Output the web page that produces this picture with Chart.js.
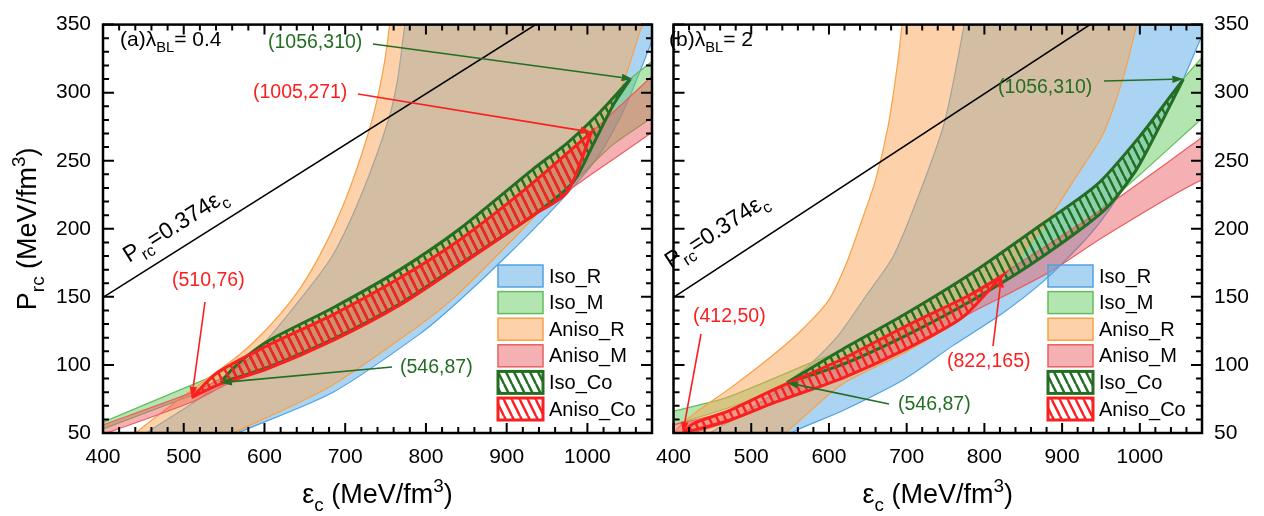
<!DOCTYPE html>
<html>
<head>
<meta charset="utf-8">
<script src="https://cdn.jsdelivr.net/npm/chart.js@4.4.1/dist/chart.umd.min.js"></script>
<style>
  html, body { margin: 0; padding: 0; background: #fff; overflow: hidden; }
  #wrap { position: relative; width: 1264px; height: 516px; }
  canvas { position: absolute; top: 0; }
  #ca { left: 0; }
  #cb { left: 644px; }
</style>
</head>
<body>
<div id="wrap">
  <canvas id="ca" width="660" height="516"></canvas>
  <canvas id="cb" width="620" height="516"></canvas>
</div>
<script>
// ---- data: [eps_c, P_rc] outlines of each band ----
// panel (a) lambda_BL = 0.4
const a_isoR = [[440,40],[454,50],[520,75.5],[590,110],[640,145],[684,180],[720,225],[753,279],[765,310],[774,350],[785,380],
  [1110,380],[1095,362],[1078,335],[1045,287],[1012,252],[966,220],[900,180],[839,146],[793,123],[685,80],[567,50],[540,42]];
const a_isoM = [[390,55],[400,58],[511,85.5],[554,97],[603,118],[685,142],[768,171],[842,201],[950,251],[1016,286],[1053,310],[1078,322],[1095,330],
  [1095,290],[1078,281],[1032,262],[982,234],[933,211],[842,175],[768,146],[685,120],[603,100],[554,88],[511,78],[400,53],[390,51]];
const a_anisoR = [[425,40],[442,50.7],[504,79],[570,108],[610,131],[645,157],[675,188],[700,221],[720,254],[736,286],[748,320],[755,350],[759,375],
  [1080,375],[1065,345],[1040,300],[1010,265],[975,236],[925,203],[836,150],[787,127],[681,84],[561,50],[530,42]];
const a_anisoM = [[390,54],[400,56],[511,80],[554,93],[603,114],[685,137],[768,164],[842,192],[925,230],[1005,271],[1078,311],[1095,320],
  [1095,277],[1078,270],[1005,240],[933,210],[842,173],[768,144],[685,118],[603,97],[554,86],[511,73],[400,49],[390,47]];
const a_isoCo = [[546,87],[560,97],[603,117],[685,142],[768,170],[842,200],[933,244],[975,263],[1016,286],[1053,310],[1053,310],
  [1032,291],[1008,263],[982,234],[933,210],[842,174],[768,145],[685,119],[603,98],[546,87]];
const a_anisoCo = [[510,76],[541,94],[603,114],[685,137],[768,164],[842,192],[925,230],[1005,271],[1005,271],
  [975,227],[933,210],[842,173],[768,144],[685,118],[603,97],[541,85],[510,76]];
const a_marks = [[1056,310],[1005,271],[510,76],[546,87]];

// panel (b) lambda_BL = 2
const b_isoR = [[430,40],[447,50],[480,61],[533,80.5],[574,99.6],[611,121],[648,151],[683,180],[718.5,229],[749,279],[774,350],[782,380],
  [1110,380],[1090,355],[1077,338],[1052,305],[1020,270],[990,240],[953,208],[925,189],[875,161],[821,137],[759,114],[697.5,89.7],[616,66],[558,52],[540,45]];
const b_isoM = [[390,64],[400,66],[468,76],[574,101],[616,111],[697,137],[780,166],[863,199],[944,232],[1000,268],[1056,310],[1080,326],[1095,336],
  [1095,289],[1080,281],[953,216],[863,175],[780,146],[697,121],[616,100],[546,84],[468,68],[400,56],[390,54]];
const b_anisoR = [[395,45],[406,54],[426,64],[472,82.6],[521,104],[562,124],[599,147],[622,174],[641,204],[660,236],[676,275],[688,320],[694,350],[698,375],
  [1005,375],[996,350],[978,310],[953,270],[920,240],[880,205],[838,175],[764,132],[697.5,109],[616,85.5],[560,58],[540,48]];
const b_anisoM = [[390,55],[400,56],[470,66],[533,83],[616,104],[697,128],[780,151],[821,166],[953,215],[1080,267],[1095,273],
  [1095,230],[1080,236],[953,194],[883,168],[772,135],[697,111],[616,90],[533,73],[470,58],[400,46],[390,44]];
const b_isoCo = [[546,87],[616,111],[697,137],[780,166],[863,199],[944,232],[1000,268],[1056,310],[1056,310],
  [1018,267],[994,242],[953,213],[863,175],[780,146],[697,121],[616,100],[546,87]];
const b_anisoCo = [[412,50],[426,57],[470,66],[533,83],[616,104],[697,128],[780,151],[822,165],[822,165],
  [772,135],[697,111],[616,90],[533,73],[470,59],[412,50]];
const b_marks = [[1056,310],[412,50],[822,165],[546,87]];

// straight line P_rc = 0.374 eps_c
const lineX = [400, 1080];
const lineY = [149.6, 403.9];

const legendNames = ['Iso_R', 'Iso_M', 'Aniso_R', 'Aniso_M', 'Iso_Co', 'Aniso_Co'];

// ---- styling ----
const F = "'Liberation Sans', Arial, Helvetica, sans-serif";
const GREEN = 'rgb(36,110,36)';
const RED = 'rgb(250,32,32)';
const COL = [
  {fill: 'rgba(92,172,228,0.52)', line: 'rgb(82,162,224)'},
  {fill: 'rgba(110,205,105,0.52)', line: 'rgb(98,190,88)'},
  {fill: 'rgba(252,165,85,0.5)', line: 'rgb(250,160,70)'},
  {fill: 'rgba(232,90,95,0.48)', line: 'rgb(232,96,96)'}
];

function hatch(color) {
  const c = document.createElement('canvas');
  c.width = 8; c.height = 16;
  const g = c.getContext('2d');
  g.strokeStyle = color;
  g.lineWidth = 2.5;
  for (const dx of [-8, 0, 8]) {
    g.beginPath(); g.moveTo(dx, 0); g.lineTo(dx + 8, 16); g.stroke();
  }
  return g.createPattern(c, 'repeat');
}
const HATCH_G = hatch(GREEN);
const HATCH_R = hatch(RED);

const pts = arr => arr.map(([x, y]) => ({x, y}));

function band(label, data, fill, border, bw, order) {
  return {
    label, data: pts(data), backgroundColor: fill, borderColor: border, borderWidth: bw,
    fill: 'shape', pointRadius: 0, tension: 0.25, order, clip: 0
  };
}

function rich(ctx, parts, x, y, size, color, rot, align) {
  ctx.save();
  ctx.translate(x, y);
  if (rot) ctx.rotate(rot);
  ctx.fillStyle = color;
  ctx.textBaseline = 'alphabetic';
  ctx.textAlign = 'left';
  const segs = parts.map(([t, k]) => {
    const s = k ? size * 0.7 : size;
    ctx.font = `${s}px ${F}`;
    return {t, k, s, w: ctx.measureText(t).width};
  });
  const total = segs.reduce((a, b) => a + b.w, 0);
  let cx = align === 'center' ? -total / 2 : 0;
  for (const g of segs) {
    ctx.font = `${g.s}px ${F}`;
    const dy = g.k === 1 ? size * 0.28 : g.k === 2 ? -size * 0.42 : 0;
    ctx.fillText(g.t, cx, dy);
    cx += g.w;
  }
  ctx.restore();
}

function arrow(ctx, x0, y0, x1, y1, color) {
  const a = Math.atan2(y1 - y0, x1 - x0), L = 11, W = 3.8;
  const bx = x1 - L * Math.cos(a), by = y1 - L * Math.sin(a);
  ctx.strokeStyle = color; ctx.fillStyle = color; ctx.lineWidth = 1.6;
  ctx.beginPath(); ctx.moveTo(x0, y0); ctx.lineTo(bx, by); ctx.stroke();
  ctx.beginPath();
  ctx.moveTo(x1, y1);
  ctx.lineTo(bx + W * Math.sin(a), by - W * Math.cos(a));
  ctx.lineTo(bx - W * Math.sin(a), by + W * Math.cos(a));
  ctx.closePath(); ctx.fill();
}

function decor(P) {
  return {
    id: 'decor',
    afterDatasetsDraw(chart) {
      const ctx = chart.ctx, ca = chart.chartArea;
      const xs = chart.scales.x, ys = chart.scales.y, o = P.off;
      ctx.save();

      // frame with inward ticks on all four sides
      ctx.strokeStyle = '#000';
      ctx.lineWidth = 2;
      ctx.beginPath();
      for (let v = 400; v <= 1080; v += 20) {
        const p = xs.getPixelForValue(v), L = v % 100 === 0 ? 10 : 6;
        ctx.moveTo(p, ca.bottom); ctx.lineTo(p, ca.bottom - L);
        ctx.moveTo(p, ca.top); ctx.lineTo(p, ca.top + L);
      }
      for (let v = 50; v <= 350; v += 10) {
        const p = ys.getPixelForValue(v), L = v % 50 === 0 ? 11 : 6;
        ctx.moveTo(ca.left, p); ctx.lineTo(ca.left + L, p);
        ctx.moveTo(ca.right, p); ctx.lineTo(ca.right - L, p);
      }
      ctx.stroke();
      ctx.lineWidth = 2.5;
      ctx.strokeRect(ca.left, ca.top, ca.right - ca.left, ca.bottom - ca.top);

      // panel tag
      rich(ctx, P.tag, P.tagX - o, 46, 21, '#000', 0, 'left');

      // label along the straight line
      const x0 = xs.getPixelForValue(lineX[0]), y0 = ys.getPixelForValue(lineY[0]);
      const x1 = xs.getPixelForValue(lineX[1]), y1 = ys.getPixelForValue(lineY[1]);
      rich(ctx, [['P', 0], ['rc', 1], ['=0.374\u03b5', 0], ['c', 1]],
        P.lineLab[0] - o, P.lineLab[1], 23, '#000', Math.atan2(y1 - y0, x1 - x0), 'left');

      // annotated corner points
      ctx.font = `19.5px ${F}`;
      ctx.textBaseline = 'middle';
      ctx.textAlign = 'left';
      P.marks.forEach((m, i) => {
        const s = P.markPos[i];
        const col = s.c === 'g' ? GREEN : RED;
        ctx.fillStyle = col;
        ctx.fillText(`(${m[0]},${m[1]})`, s.tx - o, s.ty);
        arrow(ctx, s.ax - o, s.ay, xs.getPixelForValue(m[0]), ys.getPixelForValue(m[1]), col);
      });

      // legend
      legendNames.forEach((name, i) => {
        const yc = 276 + i * 26.6, bx = P.legX - o;
        if (i < 4) {
          ctx.fillStyle = COL[i].fill;
          ctx.fillRect(bx, yc - 11, 45, 22);
          ctx.strokeStyle = COL[i].line; ctx.lineWidth = 1.5;
          ctx.strokeRect(bx, yc - 11, 45, 22);
        } else {
          ctx.fillStyle = i === 4 ? HATCH_G : HATCH_R;
          ctx.fillRect(bx, yc - 11, 45, 22);
          ctx.strokeStyle = i === 4 ? GREEN : RED; ctx.lineWidth = 3;
          ctx.strokeRect(bx, yc - 11, 45, 22);
        }
        ctx.fillStyle = '#000';
        ctx.font = `20px ${F}`;
        ctx.textBaseline = 'middle';
        ctx.fillText(name, bx + 51, yc + 1);
      });

      // axis titles
      rich(ctx, [['\u03b5', 0], ['c', 1], [' (MeV/fm', 0], ['3', 2], [')', 0]],
        (ca.left + ca.right) / 2, 503, 27, '#000', 0, 'center');
      if (P.yTitle) {
        rich(ctx, [['P', 0], ['rc', 1], [' (MeV/fm', 0], ['3', 2], [')', 0]],
          36, (ca.top + ca.bottom) / 2, 27, '#000', -Math.PI / 2, 'center');
      }
      ctx.restore();
    }
  };
}

function makePanel(P) {
  const tickFont = {family: F, size: 21};
  new Chart(document.getElementById(P.id), {
    type: 'line',
    data: {
      datasets: [
        band('Iso_R', P.bands[0], COL[0].fill, COL[0].line, 1.2, 7),
        band('Iso_M', P.bands[1], COL[1].fill, COL[1].line, 1.2, 6),
        band('Aniso_R', P.bands[2], COL[2].fill, COL[2].line, 1.2, 5),
        band('Aniso_M', P.bands[3], COL[3].fill, COL[3].line, 1.2, 4),
        band('Iso_Co', P.bands[4], HATCH_G, GREEN, 3, 3),
        band('Aniso_Co', P.bands[5], HATCH_R, RED, 3, 2),
        {label: 'line', data: pts(lineX.map((x, i) => [x, lineY[i]])), borderColor: '#000',
         borderWidth: 1.6, pointRadius: 0, fill: false, order: 1, clip: 0}
      ]
    },
    options: {
      responsive: false,
      animation: false,
      events: [],
      layout: {padding: P.pad},
      plugins: {legend: {display: false}, tooltip: {enabled: false}},
      scales: {
        x: {
          type: 'linear', min: 400, max: 1080,
          grid: {display: false, drawTicks: false}, border: {display: false},
          ticks: {stepSize: 100, includeBounds: false, font: tickFont, color: '#000', padding: 12,
                  maxRotation: 0, callback: v => String(v)},
          afterFit: s => { s.height = 83; }
        },
        y: {
          type: 'linear', min: 50, max: 350, position: P.yPos,
          grid: {display: false, drawTicks: false}, border: {display: false},
          ticks: {stepSize: 50, font: tickFont, color: '#000', padding: 12, callback: v => String(v)},
          afterFit: s => { s.width = P.yW; }
        }
      }
    },
    plugins: [decor(P)]
  });
}

makePanel({
  id: 'ca', off: 0, yPos: 'left', yW: 103, yTitle: true,
  pad: {top: 10, right: 8, left: 0, bottom: 0},
  bands: [a_isoR, a_isoM, a_anisoR, a_anisoM, a_isoCo, a_anisoCo],
  tag: [['(a)\u03bb', 0], ['BL', 1], ['= 0.4', 0]], tagX: 120,
  lineLab: [129, 263], legX: 498,
  marks: a_marks,
  markPos: [
    {c: 'g', tx: 268, ty: 43, ax: 373, ay: 44},
    {c: 'r', tx: 253, ty: 93, ax: 358, ay: 94},
    {c: 'r', tx: 172, ty: 281, ax: 205, ay: 302},
    {c: 'g', tx: 400, ty: 368, ax: 392, ay: 367}
  ]
});

makePanel({
  id: 'cb', off: 644, yPos: 'right', yW: 62, yTitle: false,
  pad: {top: 10, right: 0, left: 8, bottom: 0},
  bands: [b_isoR, b_isoM, b_anisoR, b_anisoM, b_isoCo, b_anisoCo],
  tag: [['(b)\u03bb', 0], ['BL', 1], ['= 2', 0]], tagX: 669,
  lineLab: [671, 269], legX: 1048,
  marks: b_marks,
  markPos: [
    {c: 'g', tx: 998, ty: 88, ax: 1104, ay: 81},
    {c: 'r', tx: 693, ty: 317, ax: 701, ay: 334},
    {c: 'r', tx: 947, ty: 362, ax: 993, ay: 346},
    {c: 'g', tx: 898, ty: 405, ax: 889, ay: 404}
  ]
});
</script>
</body>
</html>
